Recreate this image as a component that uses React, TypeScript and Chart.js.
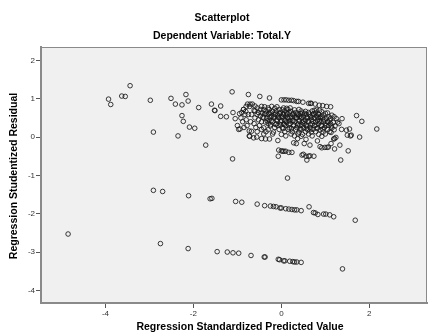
import React, { useEffect, useRef } from "react";
import { Chart, registerables } from "chart.js";

Chart.register(...registerables);

const mainTitle = "Scatterplot";
const subTitle = "Dependent Variable: Total.Y";
const xTitle = "Regression Standardized Predicted Value";
const yTitle = "Regression Studentized Residual";

const xTickValues = [-4, -2, 0, 2];
const yTickValues = [-4, -3, -2, -1, 0, 1, 2];

// scattered upper points
const outerX = [-4.85, -3.93, -3.88, -3.63, -3.55, -3.44, -2.98, -2.91, -2.51, -2.41, -2.26, -2.17, -2.12, -2.26, -2.23, -2.09, -1.97, -2.35, -1.88, -1.72, -1.59, -1.52, -1.51, -1.38, -1.38, -1.25, -1.12, -0.75, -0.49, -0.27, -1.10, -1.05, -0.95, -0.86, -1.11, 0.14, 2.17, 1.71, 1.83, 1.57, 1.78, 1.52, 1.35, 1.38, 1.31, 1.37, 1.48, 1.55, 1.50, 1.21, 1.21, 1.33, 1.59];
const outerY = [-2.53, 0.99, 0.85, 1.07, 1.06, 1.34, 0.96, 0.13, 1.01, 0.86, 0.84, 1.11, 0.94, 0.56, 0.41, 0.26, 0.23, 0.03, 0.77, -0.21, 0.86, 0.70, 0.69, 0.81, 0.54, 0.53, 1.18, 1.11, 1.06, 1.02, 0.64, 0.48, 0.61, 0.72, -0.57, -1.07, 0.21, 0.56, 0.41, 0.03, 0.00, -0.36, -0.60, 0.48, 0.35, 0.20, 0.18, 0.21, 0.05, -0.04, -0.31, -0.21, 0.05];

// top edge of the main cluster
const topX = [0.00, 0.06, 0.11, 0.17, 0.23, 0.28, 0.35, 0.39, 0.49, 0.62, 0.66, 0.68, 0.77, 0.86, 0.94, 1.03, 1.12, -0.77, -0.71, -0.66, -0.81, -0.75, -0.68, -0.62];
const topY = [0.97, 0.97, 0.97, 0.96, 0.96, 0.95, 0.93, 0.93, 0.91, 0.88, 0.88, 0.88, 0.86, 0.83, 0.82, 0.80, 0.79, 0.86, 0.86, 0.86, 0.67, 0.59, 0.59, 0.70];

// dense core of the main cluster
const coreX = [
  -0.80, -0.72, -0.60, -0.45, -0.38, -0.22, -0.10,
  -0.55, -0.30, -0.15, 0.05, 0.12, 0.20,
  -0.86, -0.48, -0.40, -0.28, -0.05, 0.02, 0.15, 0.30, 0.40, 0.75, 0.80, 0.87,
  -0.60, -0.35, -0.20, -0.12, 0.08, 0.22, 0.45, 0.55, 0.70, 0.92,
  -0.90, -0.52, -0.44, -0.25, -0.02, 0.12, 0.18, 0.33, 0.48, 0.62, 0.78, 1.00, 1.05,
  -0.83, -0.55, -0.38, -0.30, -0.15, -0.08, 0.05, 0.25, 0.38, 0.57, 0.72, 0.85, 0.95, 1.15,
  -0.48, -0.22, 0.00, 0.10, 0.30, 0.42, 0.50, 0.66, 0.80, 0.90, 1.08, 1.20,
  -0.92, -0.60, -0.40, -0.33, -0.18, -0.05, 0.15, 0.20, 0.35, 0.45, 0.60, 0.75, 0.88, 1.02, 1.12, 1.25,
  -0.80, -0.52, -0.28, -0.10, 0.08, 0.25, 0.40, 0.55, 0.68, 0.82, 0.97, 1.10,
  -0.88, -0.70, -0.45, -0.36, -0.20, -0.02, 0.12, 0.30, 0.48, 0.62, 0.78, 0.90, 1.05, 1.18, 1.28,
  -0.62, -0.30, -0.12, 0.05, 0.20, 0.38, 0.52, 0.70, 0.85, 1.00, 1.12,
  -1.00, -0.78, -0.50, -0.25, -0.08, 0.10, 0.28, 0.42, 0.58, 0.75, 0.92, 1.08, 1.22,
  -0.97, -0.94, -0.85, -0.58, -0.40, -0.15, 0.02, 0.18, 0.35, 0.50, 0.65, 0.82, 0.98, 1.15,
  -0.73, -0.68, -0.45, -0.30, -0.05, 0.15, 0.32, 0.45, 0.60, 0.72, 0.88, 1.05, 1.20,
  -0.55, -0.35, -0.18, 0.08, 0.25, 0.40, 0.55, 0.68, 0.78, 0.95, 1.10,
  -0.40, -0.20, 0.00, 0.22, 0.38, 0.48, 0.62, 0.85, 1.00,
  -0.72, 0.10, 0.30, 0.45, 0.70, 0.92
];
const coreY = [
  0.80, 0.80, 0.81, 0.80, 0.79, 0.80, 0.79,
  0.76, 0.76, 0.75, 0.76, 0.75, 0.76,
  0.72, 0.72, 0.71, 0.72, 0.72, 0.71, 0.72, 0.71, 0.72, 0.70, 0.71, 0.70,
  0.68, 0.68, 0.67, 0.68, 0.68, 0.67, 0.68, 0.67, 0.68, 0.66,
  0.64, 0.64, 0.63, 0.64, 0.64, 0.63, 0.64, 0.64, 0.63, 0.64, 0.63, 0.62, 0.63,
  0.59, 0.59, 0.60, 0.59, 0.59, 0.58, 0.59, 0.59, 0.58, 0.59, 0.58, 0.59, 0.58, 0.57,
  0.55, 0.55, 0.54, 0.55, 0.55, 0.54, 0.55, 0.54, 0.55, 0.54, 0.53, 0.53,
  0.50, 0.50, 0.50, 0.49, 0.50, 0.50, 0.49, 0.50, 0.50, 0.49, 0.50, 0.49, 0.50, 0.48, 0.49, 0.48,
  0.45, 0.45, 0.44, 0.45, 0.45, 0.44, 0.45, 0.44, 0.45, 0.44, 0.45, 0.44,
  0.40, 0.40, 0.40, 0.39, 0.40, 0.40, 0.39, 0.40, 0.39, 0.40, 0.39, 0.40, 0.39, 0.38, 0.39,
  0.35, 0.35, 0.34, 0.35, 0.35, 0.34, 0.35, 0.34, 0.35, 0.34, 0.35,
  0.30, 0.30, 0.30, 0.29, 0.30, 0.30, 0.29, 0.30, 0.29, 0.30, 0.29, 0.30, 0.29,
  0.20, 0.21, 0.25, 0.25, 0.24, 0.25, 0.25, 0.24, 0.25, 0.24, 0.25, 0.24, 0.25, 0.24,
  0.16, 0.15, 0.20, 0.19, 0.20, 0.20, 0.19, 0.20, 0.19, 0.20, 0.19, 0.20, 0.19,
  0.14, 0.14, 0.13, 0.14, 0.14, 0.13, 0.14, 0.13, 0.14, 0.13, 0.14,
  0.08, 0.08, 0.07, 0.08, 0.08, 0.07, 0.08, 0.07, 0.08,
  0.02, 0.03, 0.03, 0.02, 0.03, 0.02
];

// extra overlapping points in the darkest part of the cluster
const denseX = [
  -0.35, -0.27, -0.13, -0.04, 0.04, 0.13, 0.27, 0.36, 0.44, 0.53, 0.64, 0.73, 0.84,
  -0.42, -0.26, -0.16, -0.07, 0.03, 0.14, 0.24, 0.34, 0.46, 0.58, 0.69, 0.83, 0.94,
  -0.32, -0.23, -0.09, 0.01, 0.09, 0.18, 0.27, 0.41, 0.51, 0.61, 0.72, 0.86, 0.96, 1.06,
  -0.25, -0.13, -0.02, 0.07, 0.17, 0.28, 0.37, 0.47, 0.56, 0.66, 0.79, 0.91, 1.02, 1.14,
  0.04, 0.23, 0.43, 0.57, 0.67, 0.81, 0.94, 1.13
];
const denseY = [
  0.62, 0.61, 0.62, 0.61, 0.61, 0.60, 0.61, 0.60, 0.61, 0.62, 0.60, 0.61, 0.60,
  0.52, 0.52, 0.53, 0.52, 0.52, 0.51, 0.52, 0.51, 0.52, 0.51, 0.52, 0.51, 0.50,
  0.42, 0.43, 0.42, 0.43, 0.42, 0.42, 0.43, 0.42, 0.41, 0.42, 0.41, 0.42, 0.41, 0.40,
  0.32, 0.33, 0.32, 0.32, 0.33, 0.32, 0.31, 0.32, 0.31, 0.32, 0.31, 0.30, 0.30, 0.29,
  0.22, 0.22, 0.21, 0.22, 0.21, 0.22, 0.21, 0.12
];

// lower edge of the main cluster
const lowX = [-0.73, -0.63, -0.56, -0.45, -0.36, -0.27, -0.08, -0.06, 0.00, 0.03, 0.06, 0.10, 0.17, 0.24, -0.07, 0.47, 0.50, 0.56, 0.62, 0.65, 0.74, 0.58, 0.28, 0.34, 0.37, 0.52, 0.65, 0.56, 0.82, 0.88, 0.99, 1.04, 1.13, 1.19, 1.24, 0.92, 1.07];
const lowY = [0.03, -0.02, 0.00, -0.04, -0.05, -0.05, -0.09, -0.34, -0.36, -0.37, -0.37, -0.37, -0.40, -0.40, -0.50, -0.47, -0.45, -0.50, -0.50, -0.49, -0.50, -0.60, -0.15, -0.17, -0.04, -0.17, -0.21, -0.06, -0.10, -0.25, -0.27, -0.27, -0.17, -0.05, -0.01, -0.28, -0.26];

// band near -2
const band2X = [-2.91, -2.70, -2.11, -1.62, -1.58, -1.04, -0.90, -0.55, -0.38, -0.25, -0.18, -0.12, -0.03, 0.00, 0.10, 0.17, 0.24, 0.30, 0.35, 0.45, 0.63, 0.73, 0.77, 0.83, 0.96, 1.01, 1.10, 1.19, 1.68];
const band2Y = [-1.39, -1.42, -1.53, -1.61, -1.60, -1.68, -1.70, -1.75, -1.79, -1.80, -1.81, -1.82, -1.85, -1.85, -1.87, -1.88, -1.89, -1.90, -1.90, -1.92, -1.82, -1.97, -1.98, -2.02, -2.01, -2.01, -2.03, -2.08, -2.17];

// band near -3
const band3X = [-2.75, -2.12, -1.46, -1.23, -1.10, -0.97, -0.69, -0.39, -0.37, -0.07, -0.04, 0.05, 0.08, 0.19, 0.26, 0.30, 0.35, 0.45, 1.39];
const band3Y = [-2.78, -2.91, -2.99, -3.00, -3.02, -3.03, -3.09, -3.13, -3.13, -3.19, -3.20, -3.23, -3.23, -3.24, -3.25, -3.26, -3.26, -3.27, -3.44];

const allX = [...outerX, ...topX, ...coreX, ...denseX, ...lowX, ...band2X, ...band3X];
const allY = [...outerY, ...topY, ...coreY, ...denseY, ...lowY, ...band2Y, ...band3Y];

const FONT = '"Liberation Sans", Arial, sans-serif';

const framePlugin = {
  id: "spssFrame",
  beforeDraw(chart: any) {
    const { ctx, chartArea: a } = chart;
    ctx.save();
    ctx.fillStyle = "#ffffff";
    ctx.fillRect(0, 0, chart.width, chart.height);
    ctx.fillStyle = "#f0f0f0";
    ctx.fillRect(a.left, a.top, a.right - a.left, a.bottom - a.top);
    ctx.restore();
  },
  afterDraw(chart: any) {
    const { ctx, chartArea: a } = chart;
    ctx.save();
    ctx.strokeStyle = "#8a8a8a";
    ctx.lineWidth = 1;
    ctx.beginPath();
    ctx.moveTo(a.left, a.top + 0.5);
    ctx.lineTo(a.right, a.top + 0.5);
    ctx.moveTo(a.right - 0.5, a.top);
    ctx.lineTo(a.right - 0.5, a.bottom);
    ctx.stroke();
    ctx.fillStyle = "#000";
    ctx.font = `bold 10.5px ${FONT}`;
    ctx.textAlign = "center";
    ctx.textBaseline = "middle";
    ctx.fillText(mainTitle, 222, 18);
    ctx.fillText(subTitle, 222, 36);
    ctx.fillText(xTitle, 240, 327);
    ctx.translate(14, 176);
    ctx.rotate(-Math.PI / 2);
    ctx.fillText(yTitle, 0, 0);
    ctx.restore();
  },
};

export default function App() {
  const ref = useRef<HTMLCanvasElement | null>(null);
  useEffect(() => {
    if (!ref.current) return;
    const points = allX.map((x, i) => ({ x, y: allY[i] }));
    const chart = new Chart(ref.current, {
      type: "scatter",
      data: {
        datasets: [
          {
            data: points,
            pointStyle: "circle",
            pointRadius: 2.3,
            pointBorderWidth: 1,
            pointBorderColor: "rgba(25,25,25,0.85)",
            pointBackgroundColor: "rgba(0,0,0,0)",
          },
        ],
      },
      options: {
        responsive: false,
        animation: false,
        events: [],
        layout: { padding: { top: 47, left: 0, right: 0, bottom: 0 } },
        plugins: { legend: { display: false }, tooltip: { enabled: false }, title: { display: false } },
        scales: {
          x: {
            type: "linear",
            min: -5.466,
            max: 3.312,
            afterBuildTicks: (s: any) => {
              s.ticks = xTickValues.map((v) => ({ value: v }));
            },
            afterFit: (s: any) => {
              s.height = 30;
            },
            ticks: {
              color: "#333",
              font: { size: 8, family: FONT },
              padding: 1,
              maxRotation: 0,
              callback: (v: any) => String(v),
            },
            grid: { drawOnChartArea: false, drawTicks: true, tickLength: 5, color: "#555", tickWidth: 1 },
            border: { display: true, color: "#8a8a8a", width: 2 },
          },
          y: {
            type: "linear",
            min: -4.33,
            max: 2.35,
            afterBuildTicks: (s: any) => {
              s.ticks = yTickValues.map((v) => ({ value: v }));
            },
            afterFit: (s: any) => {
              s.width = 41;
            },
            ticks: {
              color: "#333",
              font: { size: 8, family: FONT },
              padding: 1,
              callback: (v: any) => String(v),
            },
            grid: { drawOnChartArea: false, drawTicks: true, tickLength: 5, color: "#555", tickWidth: 1 },
            border: { display: true, color: "#8a8a8a", width: 2 },
          },
        },
      },
      plugins: [framePlugin],
    });
    return () => chart.destroy();
  }, []);
  return (
    <div style={{ position: "absolute", left: 0, top: 0, width: 432, height: 333, background: "#fff" }}>
      <canvas ref={ref} width={432} height={333} />
    </div>
  );
}
